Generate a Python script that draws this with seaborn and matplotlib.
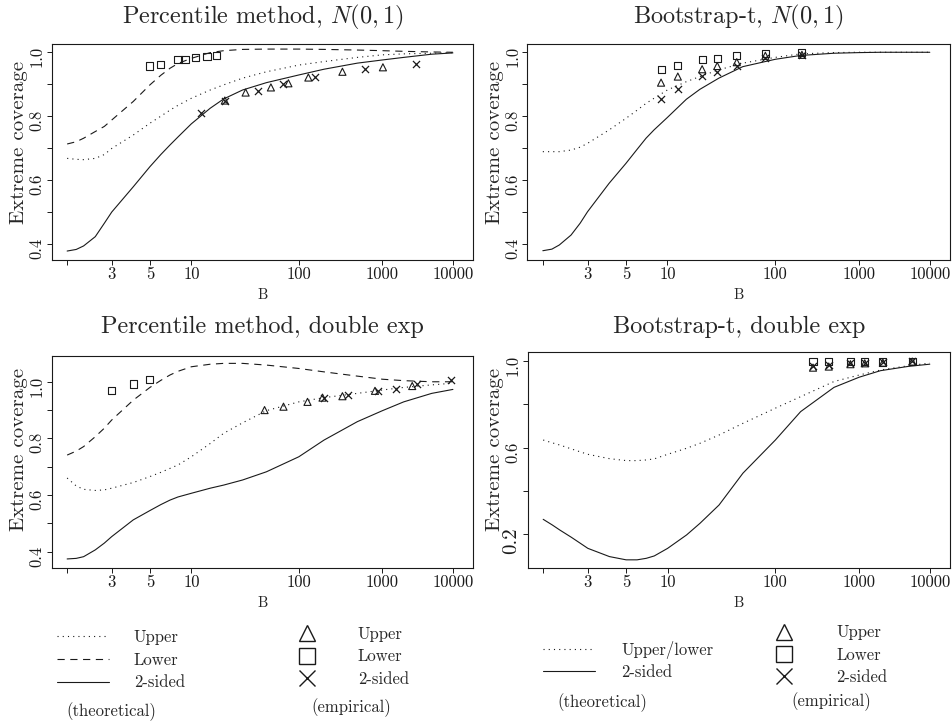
import numpy as np
import matplotlib
matplotlib.use("Agg")
import matplotlib.pyplot as plt
from matplotlib.lines import Line2D
import seaborn as sns

# grid of B values at which the theoretical curves were read
b_grid = [1, 1.25, 1.5, 2, 2.5, 3, 4, 5, 6, 7, 8, 10, 15, 20, 30, 50, 100, 200, 500,
          1000, 2000, 5000, 10000]

# Percentile method, N(0,1)
pn_upper = [0.668, 0.665, 0.664, 0.668, 0.680, 0.699, 0.741, 0.778, 0.800, 0.819, 0.834,
            0.856, 0.882, 0.898, 0.919, 0.939, 0.960, 0.971, 0.984, 0.992, 0.995, 0.997, 0.999]
pn_lower = [0.713, 0.720, 0.731, 0.752, 0.768, 0.788, 0.846, 0.898, 0.928, 0.950, 0.965,
            0.981, 0.999, 1.005, 1.009, 1.010, 1.010, 1.009, 1.007, 1.005, 1.003, 1.001, 1.000]
pn_two = [0.378, 0.383, 0.394, 0.423, 0.465, 0.500, 0.579, 0.642, 0.680, 0.710, 0.735,
          0.776, 0.825, 0.854, 0.882, 0.905, 0.929, 0.947, 0.966, 0.976, 0.984, 0.994, 0.998]
pn_emp_lower_b = [5, 6, 8, 9, 11, 14, 17]
pn_emp_lower = [0.957, 0.963, 0.976, 0.978, 0.983, 0.986, 0.989]
pn_emp_upper_b = [20.5, 32, 55, 80, 130, 332, 1014]
pn_emp_upper = [0.849, 0.874, 0.890, 0.903, 0.921, 0.939, 0.953]
pn_emp_two_b = [12.3, 20.5, 42, 71, 157, 613, 2943]
pn_emp_two = [0.809, 0.849, 0.879, 0.901, 0.924, 0.947, 0.963]

# Bootstrap-t, N(0,1)
bn_uplow = [0.689, 0.689, 0.689, 0.694, 0.703, 0.715, 0.757, 0.793, 0.818, 0.840, 0.856,
            0.882, 0.908, 0.924, 0.945, 0.966, 0.984, 0.995, 0.999, 1.000, 1.000, 1.000, 1.000]
bn_two = [0.379, 0.384, 0.397, 0.428, 0.465, 0.501, 0.590, 0.652, 0.695, 0.731, 0.757,
          0.796, 0.853, 0.884, 0.919, 0.955, 0.978, 0.990, 0.997, 0.999, 1.000, 1.000, 1.000]
bn_emp_b = [9, 12.5, 21, 29, 44, 81, 208]
bn_emp_lower = [0.945, 0.960, 0.978, 0.981, 0.989, 0.997, 1.000]
bn_emp_upper = [0.905, 0.924, 0.947, 0.957, 0.969, 0.989, 0.992]
bn_emp_two = [0.853, 0.884, 0.926, 0.939, 0.957, 0.981, 0.990]

# Percentile method, double exp
pd_upper = [0.660, 0.632, 0.620, 0.616, 0.618, 0.624, 0.644, 0.665, 0.680, 0.694, 0.706,
            0.735, 0.782, 0.818, 0.855, 0.898, 0.929, 0.944, 0.959, 0.971, 0.980, 0.989, 0.995]
pd_lower = [0.741, 0.755, 0.771, 0.806, 0.836, 0.865, 0.935, 0.980, 1.005, 1.024, 1.037,
            1.053, 1.062, 1.065, 1.065, 1.059, 1.047, 1.035, 1.020, 1.009, 1.004, 1.000, 1.000]
pd_two = [0.374, 0.376, 0.382, 0.406, 0.430, 0.453, 0.512, 0.545, 0.566, 0.582, 0.593,
          0.606, 0.624, 0.635, 0.653, 0.682, 0.735, 0.794, 0.859, 0.898, 0.929, 0.959, 0.973]
pd_emp_lower_b = [3, 4, 5]
pd_emp_lower = [0.968, 0.992, 1.009]
pd_emp_upper_b = [48, 72, 127, 192, 332, 813, 2643]
pd_emp_upper = [0.900, 0.912, 0.929, 0.944, 0.949, 0.968, 0.985]
pd_emp_two_b = [202, 389, 883, 1533, 3111, 9420]
pd_emp_two = [0.944, 0.953, 0.968, 0.976, 0.991, 1.006]

# Bootstrap-t, double exp
bd_uplow = [0.635, 0.622, 0.612, 0.594, 0.580, 0.569, 0.549, 0.540, 0.540, 0.543, 0.548,
            0.569, 0.597, 0.620, 0.658, 0.712, 0.782, 0.835, 0.905, 0.935, 0.958, 0.978, 0.990]
bd_two = [0.269, 0.243, 0.220, 0.186, 0.158, 0.135, 0.097, 0.082, 0.082, 0.089, 0.100,
          0.135, 0.197, 0.251, 0.335, 0.482, 0.635, 0.766, 0.878, 0.925, 0.955, 0.975, 0.985]
bd_emp_b = [281, 433, 785, 1197, 2163, 5650]
bd_emp_lower = [0.998, 0.998, 0.998, 0.998, 0.995, 0.998]
bd_emp_upper = [0.969, 0.974, 0.985, 0.989, 0.992, 0.997]
bd_emp_two = [0.977, 0.982, 0.989, 0.992, 0.995, 1.000]

x_ticks = [1, 3, 5, 10, 100, 1000, 10000]
x_ticklabels = ["", "3", "5", "10", "100", "1000", "10000"]

# the B axis of the original is a stretched log axis; knots taken from its tick marks
KNOT_LOGB = np.array([-2, 0, np.log10(3), np.log10(5), 1, 2, 3, 4, 6])
KNOT_POS = np.array([-187.4, 0, 44.7, 83.0, 124.5, 232.3, 316.2, 386.8, 528.0])


def fwd(b):
    b = np.clip(np.asarray(b, dtype=float), 1e-3, None)
    return np.interp(np.log10(b), KNOT_LOGB, KNOT_POS)


def inv(p):
    return 10 ** np.interp(np.asarray(p, dtype=float), KNOT_POS, KNOT_LOGB)


DOT = (0, (1, 3.7))
DASH = (0, (6.5, 5))

sns.set_theme(style="ticks")
plt.rcParams["font.family"] = ["cmr10", "DejaVu Serif"]
plt.rcParams["mathtext.fontset"] = "cm"
plt.rcParams["axes.unicode_minus"] = False

fig = plt.figure(figsize=(9.52, 7.22), dpi=100)
ax1 = fig.add_axes([0.0543, 0.6399, 0.4426, 0.2992])
ax2 = fig.add_axes([0.5539, 0.6399, 0.4440, 0.2992])
ax3 = fig.add_axes([0.0543, 0.2129, 0.4426, 0.2940])
ax4 = fig.add_axes([0.5543, 0.2129, 0.4436, 0.2992])


def curve(ax, y, ls):
    sns.lineplot(x=b_grid, y=y, ax=ax, color="k", lw=0.8, linestyle=ls)


def points(ax, b, y, marker):
    if marker == "x":
        sns.scatterplot(x=b, y=y, ax=ax, marker="x", s=26, color="k", linewidth=0.9)
    else:
        sns.scatterplot(x=b, y=y, ax=ax, marker=marker, s=26, facecolor="none",
                        edgecolor="k", linewidth=0.8)


curve(ax1, pn_upper, DOT)
curve(ax1, pn_lower, DASH)
curve(ax1, pn_two, "-")
points(ax1, pn_emp_lower_b, pn_emp_lower, "s")
points(ax1, pn_emp_upper_b, pn_emp_upper, "^")
points(ax1, pn_emp_two_b, pn_emp_two, "x")

curve(ax2, bn_uplow, DOT)
curve(ax2, bn_two, "-")
points(ax2, bn_emp_b, bn_emp_lower, "s")
points(ax2, bn_emp_b, bn_emp_upper, "^")
points(ax2, bn_emp_b, bn_emp_two, "x")

curve(ax3, pd_upper, DOT)
curve(ax3, pd_lower, DASH)
curve(ax3, pd_two, "-")
points(ax3, pd_emp_lower_b, pd_emp_lower, "s")
points(ax3, pd_emp_upper_b, pd_emp_upper, "^")
points(ax3, pd_emp_two_b, pd_emp_two, "x")

curve(ax4, bd_uplow, DOT)
curve(ax4, bd_two, "-")
points(ax4, bd_emp_b, bd_emp_lower, "s")
points(ax4, bd_emp_b, bd_emp_upper, "^")
points(ax4, bd_emp_b, bd_emp_two, "x")

titles = ["Percentile method, $N(0,1)$", "Bootstrap-t, $N(0,1)$",
          "Percentile method, double exp", "Bootstrap-t, double exp"]
ylims = [(0.35, 1.026), (0.35, 1.026), (0.341, 1.091), (0.043, 1.04)]
title_pads = [14.6, 14.6, 16.6, 13.6]
ylabel_pos = [(-0.0776, 0.546), (-0.0764, 0.546), (-0.0776, 0.562), (-0.0764, 0.552)]

for ax, title, ylim, tpad, lpos in zip([ax1, ax2, ax3, ax4], titles, ylims,
                                       title_pads, ylabel_pos):
    ax.set_xscale("function", functions=(fwd, inv))
    ax.set_xlim(inv(-15.5), inv(407))
    ax.set_ylim(*ylim)
    ax.set_xticks(x_ticks)
    ax.set_xticklabels(x_ticklabels)
    ax.xaxis.set_minor_locator(matplotlib.ticker.NullLocator())
    for s in ax.spines.values():
        s.set_visible(True)
        s.set_linewidth(0.8)
        s.set_color("k")
    ax.tick_params(direction="out", length=3.6, width=0.7, colors="k", labelsize=12)
    ax.tick_params(axis="x", pad=1.0)
    ax.tick_params(axis="y", labelrotation=90, pad=1.5)
    ax.set_title(title, fontsize=17.5, pad=tpad)
    ax.set_xlabel("B", fontsize=10.5, labelpad=4.4)
    ax.set_ylabel("Extreme coverage", fontsize=15, va="center")
    ax.yaxis.set_label_coords(*lpos)

for ax in [ax1, ax2, ax3]:
    yt = [0.4, 0.5, 0.6, 0.7, 0.8, 0.9, 1.0]
    ax.set_yticks(yt)
    ax.set_yticklabels(["0.4", "", "0.6", "", "0.8", "", "1.0"])
ax4.set_yticks([0.2, 0.4, 0.6, 0.8, 1.0])
ax4.set_yticklabels(["0.2", "", "0.6", "", "1.0"])
ax4.get_yticklabels()[0].set_fontsize(15)

# legends
lfs = 12
theo3 = [Line2D([], [], color="k", lw=0.8, ls=DOT),
         Line2D([], [], color="k", lw=0.8, ls=DASH),
         Line2D([], [], color="k", lw=0.8, ls="-")]
emp3 = [Line2D([], [], color="k", ls="none", marker="^", mfc="none", mec="k", ms=12, mew=1.0),
        Line2D([], [], color="k", ls="none", marker="s", mfc="none", mec="k", ms=12, mew=1.0),
        Line2D([], [], color="k", ls="none", marker="x", mec="k", ms=12, mew=1.0)]
theo2 = [Line2D([], [], color="k", lw=0.8, ls=DOT),
         Line2D([], [], color="k", lw=0.8, ls="-")]

common = dict(frameon=False, fontsize=lfs, borderpad=0, borderaxespad=0, loc="center left")
fig.legend(theo3, ["Upper", "Lower", "2-sided"], bbox_to_anchor=(0.0599, 0.0859),
           handlelength=3.1, handletextpad=1.5, labelspacing=0.45, **common)
fig.legend(emp3, ["Upper", "Lower", "2-sided"], bbox_to_anchor=(0.3093, 0.0904),
           handlelength=1.5, handletextpad=2.3, labelspacing=0.42, **common)
fig.legend(theo2, ["Upper/lower", "2-sided"], bbox_to_anchor=(0.5704, 0.0852),
           handlelength=3.1, handletextpad=1.6, labelspacing=0.35, **common)
fig.legend(emp3, ["Upper", "Lower", "2-sided"], bbox_to_anchor=(0.8104, 0.0928),
           handlelength=1.5, handletextpad=2.4, labelspacing=0.42, **common)

fig.text(0.1166, 0.0143, "(theoretical)", ha="center", va="center", fontsize=lfs)
fig.text(0.3687, 0.0194, "(empirical)", ha="center", va="center", fontsize=lfs)
fig.text(0.6324, 0.0267, "(theoretical)", ha="center", va="center", fontsize=lfs)
fig.text(0.8729, 0.0281, "(empirical)", ha="center", va="center", fontsize=lfs)

fig.savefig("out.png", dpi=100, facecolor="white")
